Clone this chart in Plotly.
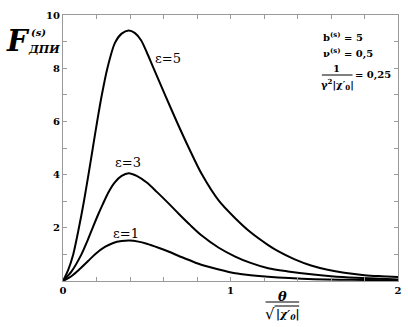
import plotly.graph_objects as go

# F(theta) curves for three values of epsilon
x_e5 = [0, 0.03, 0.061, 0.095, 0.125, 0.152, 0.178, 0.204, 0.232, 0.265, 0.31, 0.35, 0.392,
        0.43, 0.466, 0.5, 0.534, 0.609, 0.682, 0.75, 0.83, 0.93, 1.028, 1.12, 1.225, 1.284,
        1.38, 1.481, 1.58, 1.679, 1.8, 1.9, 2.0]
y_e5 = [0, 0.4, 1.0, 2.0, 3.0, 4.0, 5.0, 6.0, 7.0, 8.0, 8.95, 9.3, 9.42,
        9.32, 9.05, 8.6, 8.1, 7.0, 5.95, 5.02, 4.0, 3.02, 2.36, 1.83, 1.35, 1.12,
        0.82, 0.58, 0.42, 0.31, 0.22, 0.18, 0.15]

x_e3 = [0, 0.05, 0.11, 0.145, 0.177, 0.21, 0.237, 0.27, 0.308, 0.35, 0.392, 0.44, 0.5,
        0.56, 0.633, 0.692, 0.76, 0.83, 0.93, 1.028, 1.12, 1.225, 1.343, 1.481, 1.6,
        1.75, 1.9, 2.0]
y_e3 = [0, 0.35, 1.0, 1.5, 2.0, 2.5, 2.88, 3.32, 3.7, 3.95, 4.05, 3.95, 3.7,
        3.35, 2.9, 2.52, 2.1, 1.7, 1.25, 0.92, 0.68, 0.48, 0.36, 0.25, 0.18,
        0.12, 0.08, 0.06]

x_e1 = [0, 0.05, 0.1, 0.15, 0.19, 0.25, 0.3, 0.35, 0.396, 0.45, 0.5, 0.57, 0.633,
        0.692, 0.76, 0.83, 0.93, 1.028, 1.12, 1.225, 1.35, 1.5, 1.65, 1.8, 2.0]
y_e1 = [0, 0.18, 0.45, 0.75, 1.0, 1.28, 1.43, 1.5, 1.52, 1.48, 1.4, 1.25, 1.1,
        0.94, 0.77, 0.60, 0.43, 0.29, 0.22, 0.16, 0.11, 0.07, 0.05, 0.04, 0.03]

curve_labels = ["ε=5", "ε=3", "ε=1"]
label_x = [0.627, 0.388, 0.376]
label_y = [8.38, 4.44, 1.77]

x_tickvals = [0, 0.2, 0.4, 0.6, 0.8, 1.0, 1.2, 1.4, 1.6, 1.8, 2.0]
x_ticktext = ["0", "", "", "", "", "1", "", "", "", "", "2"]
y_tickvals = [0, 1, 2, 3, 4, 5, 6, 7, 8, 9, 10]
y_ticktext = ["", "", "2", "", "4", "", "6", "", "8", "", "10"]

W, H = 408, 327
L, R, T, B = 63, 6, 15, 46
PW, PH = W - L - R, H - T - B


def fx(px):
    return (px - L) / PW


def fy(py):
    return (H - B - py) / PH


SERIF = "DejaVu Serif"

fig = go.Figure()
for xs, ys in [(x_e5, y_e5), (x_e3, y_e3), (x_e1, y_e1)]:
    fig.add_trace(go.Scatter(x=xs, y=ys, mode="lines",
                             line=dict(color="black", width=2, shape="spline", smoothing=0.8),
                             showlegend=False, hoverinfo="skip"))

axis_common = dict(showline=True, linecolor="#9a9a9a", linewidth=1, mirror="allticks",
                   ticks="inside", ticklen=4, tickcolor="#9a9a9a", tickwidth=1,
                   showgrid=False, zeroline=False,
                   tickfont=dict(family=SERIF, size=10, color="black", weight="bold"))

fig.update_xaxes(range=[0, 2], tickvals=x_tickvals, ticktext=x_ticktext, **axis_common)
fig.update_yaxes(range=[0, 10], tickvals=y_tickvals, ticktext=y_ticktext, **axis_common)

ann = []
for t, lx, ly in zip(curve_labels, label_x, label_y):
    ann.append(dict(x=lx, y=ly, xref="x", yref="y", text=t, showarrow=False,
                    font=dict(family=SERIF, size=13, color="black")))


def paper_text(text, px, py, size, xanchor="center", bold=True, italic=False):
    s = text
    if italic:
        s = "<i>" + s + "</i>"
    if bold:
        s = "<b>" + s + "</b>"
    return dict(x=fx(px), y=fy(py), xref="paper", yref="paper", text=s, showarrow=False,
                xanchor=xanchor, yanchor="middle", borderpad=0,
                font=dict(family=SERIF, size=size, color="black"))


# y-axis title: F with subscript and superscript
ann.append(paper_text("F", 17, 41, 29, italic=True))
ann.append(paper_text("ДПИ", 27, 49, 11, xanchor="left", italic=True))
ann.append(paper_text("(s)", 38, 32, 10, italic=True))

# x-axis title: theta over sqrt(|chi'_0|)
ann.append(paper_text("θ", 285, 296, 13, italic=True))
ann.append(paper_text("√", 279, 314, 15, xanchor="right", bold=False))
ann.append(paper_text("|χ′<sub>0</sub>|", 278, 315, 11, xanchor="left", italic=True))

# parameter block
ann.append(paper_text("b<sup>(s)</sup> = 5", 325, 36, 10, xanchor="left"))
ann.append(paper_text("ν<sup>(s)</sup> = 0,5", 325, 53, 10, xanchor="left"))
ann.append(paper_text("1", 340, 68, 10))
ann.append(paper_text("γ<sup>2</sup>|χ′<sub>0</sub>|", 341, 84, 10))
ann.append(paper_text("= 0,25", 357, 75, 10, xanchor="left"))

shapes = [
    dict(type="line", xref="paper", yref="paper", x0=fx(268), x1=fx(302), y0=fy(302), y1=fy(302),
         line=dict(color="black", width=1)),
    dict(type="line", xref="paper", yref="paper", x0=fx(277), x1=fx(302), y0=fy(306), y1=fy(306),
         line=dict(color="black", width=1)),
    dict(type="line", xref="paper", yref="paper", x0=fx(325), x1=fx(356), y0=fy(75), y1=fy(75),
         line=dict(color="black", width=1)),
]

fig.update_layout(width=W, height=H, margin=dict(l=L, r=R, t=T, b=B),
                  paper_bgcolor="white", plot_bgcolor="white",
                  annotations=ann, shapes=shapes)

fig.write_html("out.html")
